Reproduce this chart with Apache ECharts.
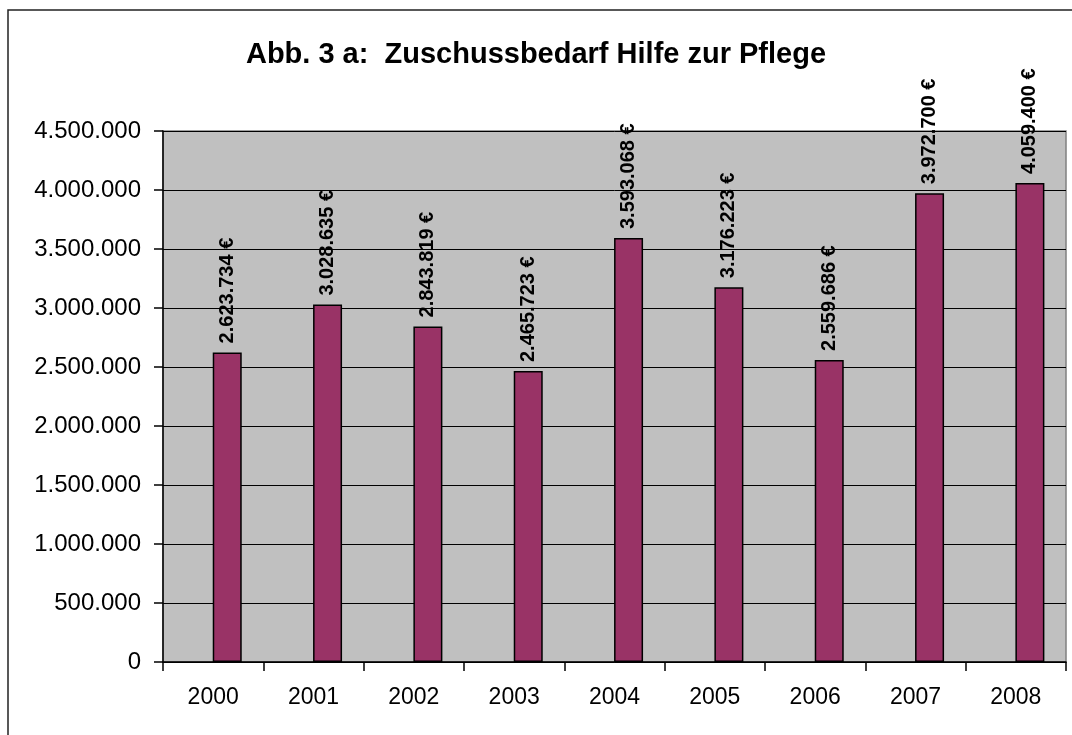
<!DOCTYPE html>
<html>
<head>
<meta charset="utf-8">
<script src="https://cdn.jsdelivr.net/npm/echarts@6/dist/echarts.min.js"></script>
<style>html,body{margin:0;padding:0;background:#fff}#c{width:1072px;height:735px}</style>
</head>
<body>
<div id="c"></div>
<script>
const years = ['2000','2001','2002','2003','2004','2005','2006','2007','2008'];
const values = [2623734, 3028635, 2843819, 2465723, 3593068, 3176223, 2559686, 3972700, 4059400];
const titleText = 'Abb. 3 a:  Zuschussbedarf Hilfe zur Pflege';

function dots(v){ return String(Math.round(v)).replace(/\B(?=(\d{3})+(?!\d))/g, '.'); }

const chart = echarts.init(document.getElementById('c'), null, {renderer:'canvas'});
chart.setOption({
  animation: false,
  backgroundColor: '#ffffff',
  textStyle: {fontFamily: 'Liberation Sans'},
  title: {
    text: titleText, left: 'center', top: 35,
    textStyle: {fontFamily: 'Liberation Sans', fontSize: 29, fontWeight: 'bold', color: '#000'}
  },
  graphic: [{
    type: 'rect', shape: {x: 8, y: 10, width: 1200, height: 900},
    style: {fill: 'none', stroke: '#222', lineWidth: 1.5}, z: 100, silent: true
  }],
  grid: {
    left: 163, right: 6, top: 131, bottom: 73,
    show: true, backgroundColor: '#C0C0C0', borderColor: '#808080', borderWidth: 1.5
  },
  xAxis: {
    type: 'category', data: years,
    axisLine: {lineStyle: {color: '#000', width: 1.5}},
    axisTick: {show: true, length: 9, lineStyle: {color: '#000', width: 1.5}},
    axisLabel: {color: '#000', fontSize: 23, margin: 24, fontFamily: 'Liberation Sans'}
  },
  yAxis: {
    type: 'value', min: 0, max: 4500000, interval: 500000,
    axisLine: {show: true, lineStyle: {color: '#000', width: 1.5}},
    axisTick: {show: true, length: 9, lineStyle: {color: '#000', width: 1.5}},
    axisLabel: {color: '#000', fontSize: 24, margin: 22, fontFamily: 'Liberation Sans', formatter: v => dots(v)},
    splitLine: {show: true, lineStyle: {color: '#000', width: 1}}
  },
  series: [{
    type: 'bar', data: years.map(() => '-'), barWidth: 29, barGap: '-3%',
    itemStyle: {color: 'transparent'}, silent: true
  }, {
    type: 'bar', data: values, barWidth: 29, barGap: '-3%',
    itemStyle: {color: '#993366', borderColor: '#000', borderWidth: 1.5},
    label: {
      show: true, position: 'top', rotate: 90, align: 'left', verticalAlign: 'middle', distance: 9,
      color: '#000', fontSize: 20, fontWeight: 'bold', fontFamily: 'Liberation Sans',
      formatter: p => dots(p.value) + ' €'
    }
  }]
});
</script>
</body>
</html>
